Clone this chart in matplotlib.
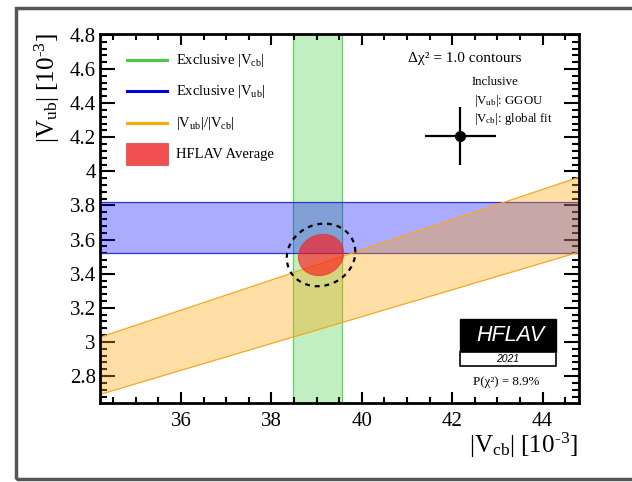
import numpy as np
import matplotlib
matplotlib.use("Agg")
import matplotlib.pyplot as plt
from matplotlib.patches import Rectangle
from matplotlib.lines import Line2D
from matplotlib.ticker import MultipleLocator

plt.rcParams["font.family"] = ["Liberation Serif", "DejaVu Serif"]
plt.rcParams["mathtext.fontset"] = "custom"
plt.rcParams["mathtext.rm"] = "Liberation Serif"
plt.rcParams["mathtext.it"] = "Liberation Serif:italic"
plt.rcParams["mathtext.bf"] = "Liberation Serif:bold"

# ---- inputs (units of 1e-3) ----
vcb_excl = (39.03, 0.54)          # exclusive |Vcb|: central, error
vub_excl = (3.67, 0.15)           # exclusive |Vub|: central, error
ratio_vub_vcb = (0.0836, 0.0049)  # |Vub|/|Vcb|: central, error
avg_center = (39.10, 3.51)        # HFLAV average (Vcb, Vub)
avg_sigma = (0.50, 0.121)         # HFLAV average uncertainties
avg_rho = 0.1                     # correlation
incl_point = (42.18, 4.21)        # inclusive (Vcb global fit, Vub GGOU)
incl_err = (0.79, 0.17)
contour_levels = [1.0, 2.3]       # delta chi^2 levels
p_chi2 = "8.9%"
xlim = (34.21, 44.80)
ylim = (2.645, 4.805)

W, H = 632, 482
fig = plt.figure(figsize=(W / 100, H / 100), dpi=100)
fig.patch.set_facecolor("white")

ax_l, ax_r, ax_t, ax_b = 100, 578.7, 34, 402.5
ax = fig.add_axes([ax_l / W, 1 - ax_b / H, (ax_r - ax_l) / W, (ax_b - ax_t) / H])
ax.set_xlim(*xlim)
ax.set_ylim(*ylim)

# exclusive |Vcb| band
ax.axvspan(vcb_excl[0] - vcb_excl[1], vcb_excl[0] + vcb_excl[1],
           facecolor="#33cc33", alpha=0.3, edgecolor="none", zorder=1)
for v in (vcb_excl[0] - vcb_excl[1], vcb_excl[0] + vcb_excl[1]):
    ax.axvline(v, color="#66cc66", lw=0.9, zorder=1.1)

# exclusive |Vub| band
ax.axhspan(vub_excl[0] - vub_excl[1], vub_excl[0] + vub_excl[1],
           facecolor="#0000ff", alpha=0.33, edgecolor="none", zorder=2)
for v in (vub_excl[0] - vub_excl[1], vub_excl[0] + vub_excl[1]):
    ax.axhline(v, color="#3333cc", lw=0.9, zorder=2.1)

# |Vub|/|Vcb| band
xs = np.linspace(xlim[0], xlim[1], 200)
lo = (ratio_vub_vcb[0] - ratio_vub_vcb[1]) * xs
hi = (ratio_vub_vcb[0] + ratio_vub_vcb[1]) * xs
ax.fill_between(xs, lo, hi, facecolor="#ffa500", alpha=0.35, edgecolor="none", zorder=3)
ax.plot(xs, lo, color="#f5a623", lw=0.9, zorder=3.1)
ax.plot(xs, hi, color="#f5a623", lw=0.9, zorder=3.1)

# HFLAV average contours
sx, sy = avg_sigma
cov = np.array([[sx * sx, avg_rho * sx * sy], [avg_rho * sx * sy, sy * sy]])
L = np.linalg.cholesky(cov)
t = np.linspace(0, 2 * np.pi, 300)
circ = np.vstack([np.cos(t), np.sin(t)])
e1 = L @ circ * np.sqrt(contour_levels[0])
e2 = L @ circ * np.sqrt(contour_levels[1])
ax.fill(avg_center[0] + e1[0], avg_center[1] + e1[1], facecolor="#ff1a1a",
        alpha=0.65, edgecolor="#dd3333", lw=0.8, zorder=4)
ax.plot(avg_center[0] + e2[0], avg_center[1] + e2[1], color="black", lw=1.6,
        ls=(0, (2.2, 2.2)), zorder=5)

# inclusive point
ax.errorbar(incl_point[0], incl_point[1], xerr=incl_err[0], yerr=incl_err[1],
            fmt="o", color="black", ms=7, lw=1.6, capsize=0, zorder=6)

# axes styling
for s in ax.spines.values():
    s.set_linewidth(2.0)
    s.set_zorder(10)
ax.tick_params(axis="both", which="both", direction="in", top=True, right=True, width=1.5)
ax.tick_params(axis="x", which="major", length=8, pad=7, labelsize=15)
ax.tick_params(axis="x", which="minor", length=4.5)
ax.tick_params(axis="y", which="major", length=11, pad=3, labelsize=15)
ax.tick_params(axis="y", which="minor", length=5)
ax.set_yticks(np.round(np.arange(2.8, 4.81, 0.2), 1))
ax.set_yticklabels(["2.8", "3", "3.2", "3.4", "3.6", "3.8", "4", "4.2", "4.4", "4.6", "4.8"])
ax.set_xticks([36, 38, 40, 42, 44])
ax.set_xticklabels(["36", "38", "40", "42", "44"])
ax.xaxis.set_minor_locator(MultipleLocator(0.5))
ax.yaxis.set_minor_locator(MultipleLocator(0.04))


def axfrac(px, py):
    return ((px - ax_l) / (ax_r - ax_l), (ax_b - py) / (ax_b - ax_t))


# legend
leg_items = [
    ("line", "#44cc44", r"Exclusive $|\mathrm{V}_{\mathrm{cb}}|$", 60),
    ("line", "#0000dd", r"Exclusive $|\mathrm{V}_{\mathrm{ub}}|$", 91),
    ("line", "#ffaa00", r"$|\mathrm{V}_{\mathrm{ub}}|/|\mathrm{V}_{\mathrm{cb}}|$", 123),
    ("box", "#f05050", "HFLAV Average", 154),
]
for kind, col, label, py in leg_items:
    x0, y0 = axfrac(127, py)
    x1, _ = axfrac(167, py)
    if kind == "line":
        ax.add_line(Line2D([x0, x1], [y0, y0], transform=ax.transAxes, color=col,
                           lw=2.2, zorder=8))
    else:
        bx0, by0 = axfrac(126, py + 11)
        bx1, by1 = axfrac(168, py - 11)
        ax.add_patch(Rectangle((bx0, by0), bx1 - bx0, by1 - by0, transform=ax.transAxes,
                               facecolor=col, edgecolor="#e06060", lw=0.8, zorder=8))
    tx, ty = axfrac(176, py)
    ax.text(tx, ty, label, transform=ax.transAxes, fontsize=10.5, va="center",
            ha="left", zorder=8)

# annotations
x, y = axfrac(464.5, 58)
ax.text(x, y, "Δχ² = 1.0 contours", transform=ax.transAxes, fontsize=11,
        ha="center", va="center", zorder=8)
x, y = axfrac(472, 82)
ax.text(x, y, "Inclusive", transform=ax.transAxes, fontsize=9.3, ha="left", va="center")
x, y = axfrac(474, 101)
ax.text(x, y, r"$|\mathrm{V}_{\mathrm{ub}}|$: GGOU", transform=ax.transAxes, fontsize=9.3,
        ha="left", va="center")
x, y = axfrac(474, 119)
ax.text(x, y, r"$|\mathrm{V}_{\mathrm{cb}}|$: global fit", transform=ax.transAxes,
        fontsize=9.3, ha="left", va="center")

# HFLAV logo
bx0, by0 = axfrac(460, 352)
bx1, by1 = axfrac(556, 319)
ax.add_patch(Rectangle((bx0, by0), bx1 - bx0, by1 - by0, transform=ax.transAxes,
                       facecolor="black", edgecolor="black", lw=1, zorder=9))
wx0, wy0 = axfrac(460, 366)
ax.add_patch(Rectangle((wx0, wy0), bx1 - wx0, by0 - wy0, transform=ax.transAxes,
                       facecolor="white", edgecolor="black", lw=1.2, zorder=9))
ax.text((bx0 + bx1) / 2 + 0.005, (by0 + by1) / 2, "HFLAV", transform=ax.transAxes,
        family="Liberation Sans", style="italic", color="white", fontsize=15.5,
        ha="center", va="center", zorder=10)
ax.text((bx0 + bx1) / 2, (wy0 + by0) / 2, "2021", transform=ax.transAxes,
        family="Liberation Sans", style="italic", color="black", fontsize=7.5,
        ha="center", va="center", zorder=10)
x, y = axfrac(506, 382)
ax.text(x, y, "P(χ²) = " + p_chi2, transform=ax.transAxes, fontsize=9.3,
        ha="center", va="center")

# axis titles
fig.text(47 / W, 1 - 33 / H, r"$|\mathrm{V}_{\mathrm{ub}}|$ [10$^{\text{-3}}$]", rotation=90,
         ha="center", va="top", fontsize=18)
fig.text(578 / W, 1 - 431 / H, r"$|\mathrm{V}_{\mathrm{cb}}|$ [10$^{\text{-3}}$]",
         ha="right", va="top", fontsize=18)

# outer frame
fig.add_artist(Rectangle((16 / W, 1 - 479 / H), 1.0, (479 - 7.5) / H,
                         transform=fig.transFigure, fill=False, edgecolor="#555555",
                         lw=2.5, clip_on=False))

fig.savefig("out.png", dpi=100)
